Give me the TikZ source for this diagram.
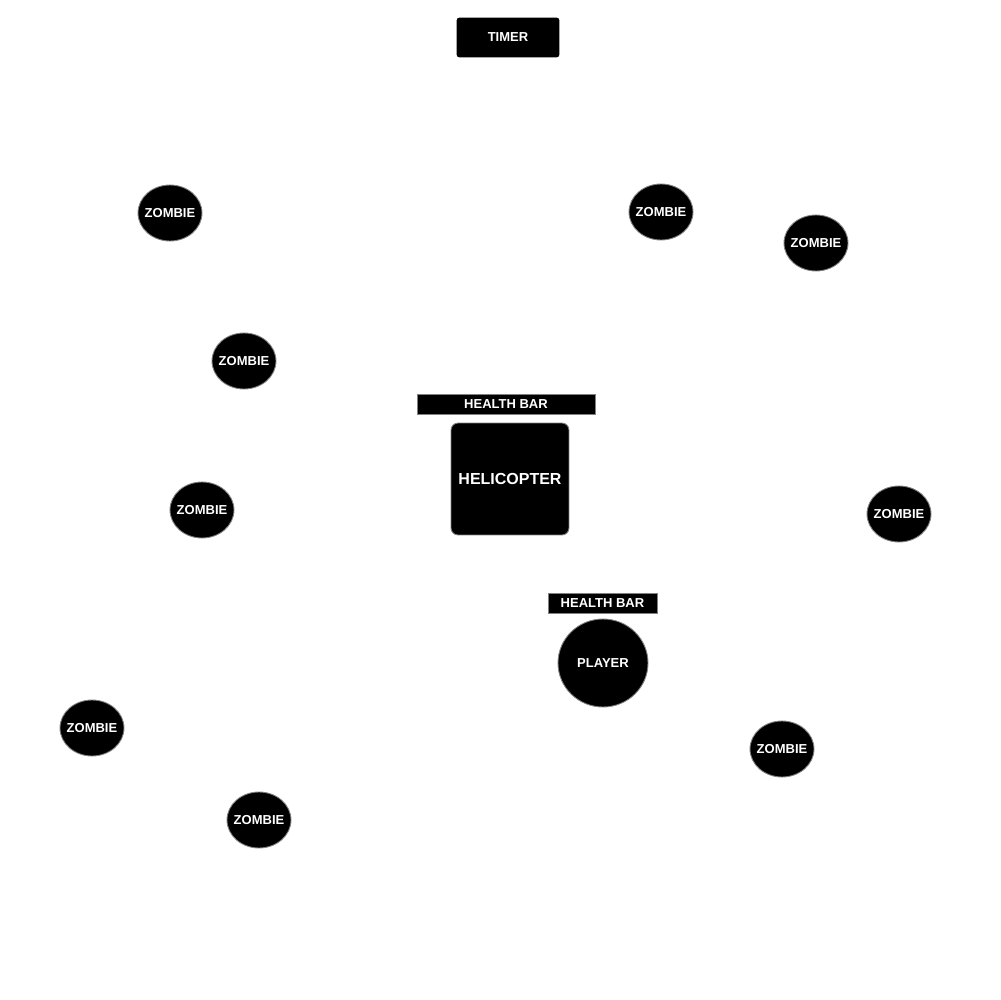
\documentclass[tikz,border=0pt]{standalone}
\usepackage{fontspec}
\setmainfont{Liberation Sans}
\usetikzlibrary{shapes.geometric}
\tikzset{
	gamenode/.style = {align=center, inner sep=0pt, text centered, white,
		font=\bfseries\fontsize{7.4}{8}\selectfont, fill=black, draw=gray, line width=0.5pt},
	zombie/.style = {gamenode, ellipse, minimum width=1.28cm, minimum height=1.12cm},% zombie
	player/.style = {gamenode, ellipse, minimum width=1.8cm, minimum height=1.76cm},% joueur
	heli/.style = {gamenode, rectangle, rounded corners=4pt, minimum width=2.36cm,
		minimum height=2.24cm, font=\bfseries\fontsize{9.1}{10}\selectfont},% helicoptere
	hbar/.style = {gamenode, rectangle, minimum height=0.4cm},% barre de vie
	timer/.style = {gamenode, rectangle, rounded corners=1.5pt, draw=black,
		minimum width=2.04cm, minimum height=0.78cm}
}
\begin{document}
\begin{tikzpicture}[x=0.02cm, y=-0.02cm]
	\useasboundingbox (0,0) rectangle (1000,1000);
	\node [timer] (timer) at (508,37.5) {TIMER};
	\node [hbar, minimum width=3.56cm] (hbarheli) at (506,404) {HEALTH BAR};
	\node [heli] (heli) at (510,479) {HELICOPTER};
	\node [hbar, minimum width=2.18cm] (hbarplayer) at (602.5,603) {HEALTH BAR};
	\node [player] (player) at (603,663) {\makebox[0pt]{PLAYER}};
	\foreach \n/\x/\y in {1/170/213, 2/661/212, 3/816/243, 4/244/361, 5/202/510,
		6/899/514, 7/92/728, 8/782/749, 9/259/820}
		\node [zombie] (z\n) at (\x,\y) {\makebox[0pt]{ZOMBIE}};
\end{tikzpicture}
\end{document}
